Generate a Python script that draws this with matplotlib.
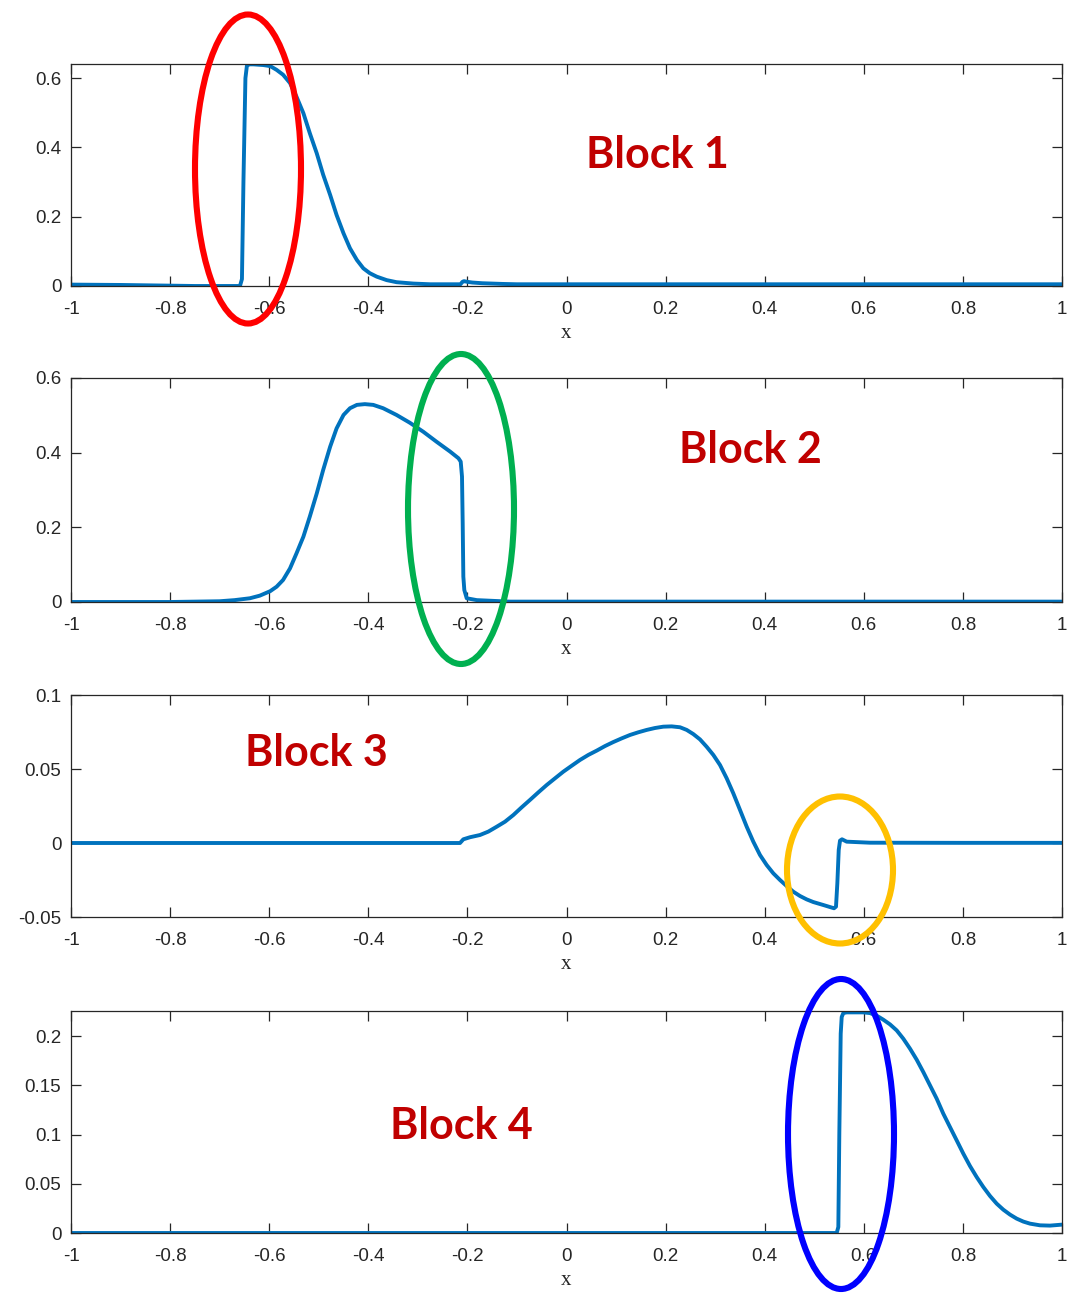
import matplotlib
matplotlib.use("Agg")
import matplotlib.pyplot as plt
from matplotlib.patches import Ellipse

plt.rcParams['axes.unicode_minus'] = False

W, H = 1089, 1293

# block 1
x1 = [-1.0, -0.9, -0.8, -0.75, -0.7, -0.659, -0.655, -0.652, -0.648, -0.645, -0.64, -0.632, -0.612,
      -0.598, -0.585, -0.572, -0.558, -0.545, -0.531, -0.518, -0.504, -0.491, -0.477, -0.464,
      -0.45, -0.437, -0.423, -0.41, -0.397, -0.383, -0.363, -0.343, -0.309, -0.275, -0.24,
      -0.214, -0.21, -0.207, -0.2, -0.19, -0.17, -0.13, -0.1, 0.0, 0.5, 1.0]
y1 = [0.004, 0.003, 0.001, 0.0, 0.0, 0.0, 0.02, 0.3, 0.6, 0.636, 0.64, 0.64, 0.638,
      0.635, 0.624, 0.61, 0.586, 0.547, 0.499, 0.441, 0.383, 0.321, 0.263, 0.205,
      0.152, 0.109, 0.075, 0.051, 0.037, 0.027, 0.017, 0.011, 0.007, 0.005, 0.005,
      0.005, 0.012, 0.014, 0.012, 0.01, 0.008, 0.006, 0.005, 0.005, 0.005, 0.005]

# block 2
x2 = [-1.0, -0.8, -0.75, -0.7, -0.67, -0.639, -0.619, -0.598, -0.585, -0.572, -0.558, -0.545,
      -0.531, -0.518, -0.504, -0.491, -0.477, -0.464, -0.45, -0.437, -0.423, -0.407, -0.39,
      -0.37, -0.343, -0.316, -0.289, -0.262, -0.235, -0.218, -0.2135, -0.2109, -0.2095,
      -0.2082, -0.2062, -0.2014, -0.181, -0.114, 0.0, 0.5, 1.0]
y2 = [0.0, 0.0, 0.001, 0.002, 0.005, 0.01, 0.017, 0.029, 0.041, 0.059, 0.09, 0.13,
      0.175, 0.229, 0.291, 0.354, 0.416, 0.465, 0.501, 0.519, 0.528, 0.53, 0.528,
      0.519, 0.501, 0.48, 0.456, 0.429, 0.403, 0.385, 0.376, 0.336, 0.211,
      0.068, 0.032, 0.01, 0.005, 0.001, 0.001, 0.001, 0.001]

# block 3
x3 = [-1.0, -0.5, -0.2149, -0.2082, -0.1947, -0.1746, -0.1578, -0.1409, -0.1241, -0.1073,
      -0.0905, -0.0737, -0.0569, -0.0399, -0.0232, -0.0064, 0.0105, 0.0272, 0.044, 0.0609,
      0.0777, 0.0944, 0.1114, 0.1282, 0.1449, 0.1618, 0.1786, 0.1953, 0.2123, 0.2291,
      0.2426, 0.2559, 0.2694, 0.2829, 0.2963, 0.3098, 0.3233, 0.3366, 0.3502, 0.3637,
      0.377, 0.3905, 0.404, 0.4174, 0.4309, 0.4444, 0.4577, 0.4712, 0.4847, 0.4981,
      0.5183, 0.5399, 0.5439, 0.5466, 0.5494, 0.552, 0.556, 0.5655, 0.6125, 0.8, 1.0]
y3 = [0.0, 0.0, 0.0, 0.0025, 0.0039, 0.0054, 0.0077, 0.011, 0.0144, 0.0189,
      0.0241, 0.0291, 0.0342, 0.0392, 0.0437, 0.0482, 0.0522, 0.0561, 0.0595, 0.0624,
      0.0655, 0.0682, 0.0707, 0.073, 0.0748, 0.0764, 0.0777, 0.0786, 0.0788, 0.0782,
      0.0764, 0.0736, 0.07, 0.065, 0.0595, 0.0527, 0.0437, 0.0336, 0.0223, 0.011,
      0.0009, -0.0081, -0.0149, -0.0205, -0.025, -0.0291, -0.0329, -0.0358, -0.0381, -0.0399,
      -0.0419, -0.0441, -0.043, -0.0272, -0.0047, 0.0016, 0.0025, 0.0009, 0.0002, 0.0001, 0.0001]

# block 4
x4 = [-1.0, 0.0, 0.5116, 0.5453, 0.5486, 0.5506, 0.5534, 0.5554, 0.5587, 0.5655, 0.599,
      0.6125, 0.626, 0.6393, 0.6529, 0.6664, 0.6797, 0.6932, 0.7067, 0.7201, 0.7336,
      0.7471, 0.7604, 0.7739, 0.7874, 0.8008, 0.8143, 0.8278, 0.8412, 0.8547, 0.8682,
      0.8815, 0.895, 0.9085, 0.9219, 0.9354, 0.9556, 0.9758, 1.0]
y4 = [0.0, 0.0, 0.0, 0.0, 0.0061, 0.1009, 0.2024, 0.2193, 0.2233, 0.224, 0.224,
      0.2233, 0.2207, 0.2166, 0.2118, 0.2057, 0.1973, 0.1872, 0.176, 0.1634, 0.1499,
      0.1364, 0.1212, 0.1076, 0.0941, 0.0806, 0.068, 0.0568, 0.0467, 0.0376, 0.0298,
      0.0237, 0.0187, 0.0146, 0.0116, 0.0095, 0.0078, 0.0075, 0.0085]

xs = [x1, x2, x3, x4]
ys = [y1, y2, y3, y4]
ylims = [(0, 0.641), (0, 0.6), (-0.05, 0.1), (0, 0.2254)]
yticks = [[0, 0.2, 0.4, 0.6], [0, 0.2, 0.4, 0.6], [-0.05, 0, 0.05, 0.1],
          [0, 0.05, 0.1, 0.15, 0.2]]
xticks = [-1, -0.8, -0.6, -0.4, -0.2, 0, 0.2, 0.4, 0.6, 0.8, 1]

# axes boxes in pixels: (top, bottom)
boxes = [(64, 286), (378, 602), (695, 917), (1011, 1233)]
left, right = 71, 1062

# block labels: text, x-center, y-center (pixels)
labels = [("Block 1", 657, 155), ("Block 2", 750, 450),
          ("Block 3", 316, 753), ("Block 4", 461, 1126)]

# highlight rings: center x, center y, width, height, colour (pixels)
rings = [(248, 169, 106, 309, "#FF0000"), (461, 509, 106, 310, "#00B050"),
         (840, 870, 106, 147, "#FFC000"), (841, 1134, 106, 310, "#0000FF")]

fig = plt.figure(figsize=(W / 100, H / 100), dpi=100)
axcol = "#262626"

for i in range(4):
    top, bot = boxes[i]
    ax = fig.add_axes([left / W, 1 - bot / H, (right - left) / W, (bot - top) / H])
    ax.plot(xs[i], ys[i], color="#0072BD", linewidth=2.8,
            solid_joinstyle="round", solid_capstyle="round")
    ax.set_xlim(-1, 1)
    ax.set_ylim(*ylims[i])
    ax.set_xticks(xticks)
    ax.set_xticklabels(["%g" % t for t in xticks])
    ax.set_yticks(yticks[i])
    ax.set_yticklabels(["%g" % t for t in yticks[i]])
    ax.tick_params(direction="in", top=True, right=True, length=7, width=0.9,
                   color=axcol, labelcolor=axcol, labelsize=13.5)
    ax.tick_params(axis="x", pad=11)
    ax.tick_params(axis="y", pad=7)
    for lab in ax.get_xticklabels() + ax.get_yticklabels():
        lab.set_fontfamily("Liberation Sans")
    for s in ax.spines.values():
        s.set_color(axcol)
        s.set_linewidth(0.9)
    ax.set_xlabel("x", fontfamily="Liberation Serif", fontsize=15, color=axcol, labelpad=4)

over = fig.add_axes([0, 0, 1, 1], zorder=10)
over.set_xlim(0, W)
over.set_ylim(H, 0)
over.axis("off")
over.patch.set_alpha(0)

for txt, cx, cy in labels:
    over.text(cx, cy, txt, ha="center", va="center", fontfamily="Lato",
              fontweight="bold", fontsize=31, color="#C00000")

for cx, cy, w, h, c in rings:
    over.add_patch(Ellipse((cx, cy), w, h, fill=False, edgecolor=c, linewidth=4.4))

fig.savefig("out.png", dpi=100)
